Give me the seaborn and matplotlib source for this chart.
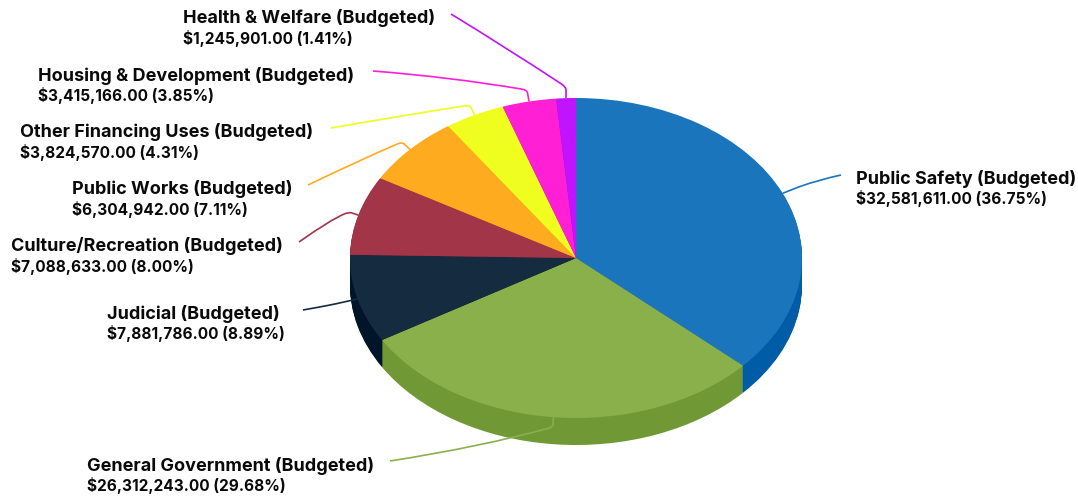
import matplotlib
matplotlib.use("Agg")
import numpy as np
import matplotlib.pyplot as plt
import seaborn as sns
from matplotlib.path import Path
from matplotlib.patches import PathPatch
from matplotlib.transforms import Affine2D

# Budgeted expenditure by function
departments = ["Public Safety", "General Government", "Judicial", "Culture/Recreation",
               "Public Works", "Other Financing Uses", "Housing & Development", "Health & Welfare"]
budgets = [32581611, 26312243, 7881786, 7088633, 6304942, 3824570, 3415166, 1245901]
top_colors = ["#1B75BC", "#8AB04C", "#152B40", "#A23547", "#FFAB1F", "#EFFE1F", "#FF1FD5", "#C013FE"]
side_colors = ["#005CA6", "#709834", "#00142A", "#8A1F31", "#E09000", "#D0E000", "#E000B8", "#A000E0"]

# Layout in pixels, measured from the top-left of the canvas
W, H = 1078, 498
CX, CY, RX, RY, DEPTH = 576, 258, 226, 160, 27
label_xy = [(856, 188), (87, 475), (107, 323), (11, 255.5), (72, 198.5), (20, 141.5), (38, 85), (183, 27.5)]
leader_elbow = [(796, 188), (553, 427), (335, 304), (349, 212), (402, 142), (470, 105), (527, 90), (566, 87)]
leader_bend = [(818, 180), (480, 447), (320, 307), (330, 220), (360, 160), (400, 116), (450, 77), (510, 50)]
leader_end = [(841, 175), (390, 461), (303, 310), (299, 242), (308, 185), (331, 128), (373, 71), (451, 14)]

sns.set_theme(style="white")
plt.rcParams["font.family"] = ["Inter", "DejaVu Sans"]

fig = plt.figure(figsize=(W / 100, H / 100), dpi=100)
ax = fig.add_axes([0, 0, 1, 1])
pie_style = dict(startangle=90, counterclock=False, radius=1, frame=False)

# The rim: the same pie repeated downward in the darker colours
for d in range(DEPTH, 0, -1):
    ax.pie(budgets, colors=sns.color_palette(side_colors), center=(0, -d / RY),
           wedgeprops=dict(linewidth=0.6, edgecolor="none", antialiased=True), **pie_style)
ax.pie(budgets, colors=sns.color_palette(top_colors), center=(0, 0),
       wedgeprops=dict(linewidth=0), **pie_style)

# A unit of data is one pie radius, stretched into an ellipse
ax.set_aspect("auto")
ax.set_xlim(-CX / RX, (W - CX) / RX)
ax.set_ylim((CY - H) / RY, CY / RY)
ax.axis("off")

px = Affine2D().scale(1, -1).translate(0, H)
total = sum(budgets)
cum = np.cumsum([0] + budgets[:-1])

for i, (name, value) in enumerate(zip(departments, budgets)):
    mid = (cum[i] + value / 2) / total * 2 * np.pi
    start = (CX + RX * np.sin(mid), CY - RY * np.cos(mid))
    elbow = np.array(leader_elbow[i], float)
    bend = np.array(leader_bend[i], float)
    end = np.array(leader_end[i], float)
    s = np.array(start)
    near = elbow + (s - elbow) * min(1, 3 / max(np.hypot(*(s - elbow)), 1e-6))
    away = elbow + (bend - elbow) * 5 / np.hypot(*(bend - elbow))
    verts = [s, near, elbow, away, bend, end]
    codes = [Path.MOVETO, Path.LINETO, Path.CURVE3, Path.CURVE3, Path.CURVE3, Path.CURVE3]
    ax.add_patch(PathPatch(Path(verts, codes), transform=px, fill=False,
                           edgecolor=top_colors[i], linewidth=1.2, zorder=5, clip_on=False))
    x, y = label_xy[i]
    ax.text(x, y - 9.5, f"{name} (Budgeted)", transform=px, ha="left", va="center",
            fontsize=13.0, fontweight="bold", color="#0a0a0a", zorder=6)
    ax.text(x, y + 10.5, f"${value:,.2f} ({value / total * 100:.2f}%)", transform=px,
            ha="left", va="center", fontsize=11.1, fontweight="bold", color="#0a0a0a", zorder=6)

fig.savefig("out.png", dpi=100, facecolor="white")
